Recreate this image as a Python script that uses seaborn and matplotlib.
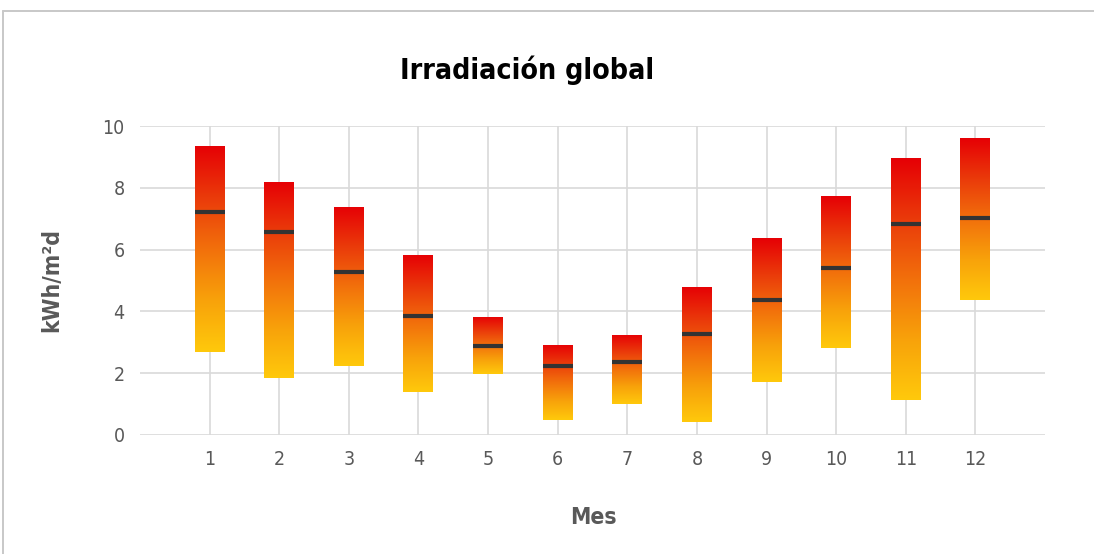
import numpy as np
import pandas as pd
import matplotlib
matplotlib.use("Agg")
import matplotlib.pyplot as plt
from matplotlib.colors import LinearSegmentedColormap
from matplotlib.lines import Line2D
import seaborn as sns

# Monthly global irradiation (kWh/m²d): minimum, maximum and mean
meses = [1, 2, 3, 4, 5, 6, 7, 8, 9, 10, 11, 12]
minimo = [2.68, 1.83, 2.22, 1.38, 1.96, 0.47, 0.99, 0.41, 1.71, 2.81, 1.12, 4.36]
maximo = [9.35, 8.19, 7.39, 5.84, 3.83, 2.92, 3.25, 4.80, 6.37, 7.72, 8.95, 9.60]
media = [7.22, 6.56, 5.27, 3.84, 2.87, 2.22, 2.35, 3.26, 4.36, 5.39, 6.82, 7.01]
y_ticks = [0, 2, 4, 6, 8, 10]

sns.set_theme(style="white")
plt.rcParams["font.family"] = ["DejaVu Sans"]
plt.rcParams["font.stretch"] = "condensed"

df = pd.DataFrame({"Mes": meses, "min": minimo, "max": maximo, "media": media})
df["rango"] = df["max"] - df["min"]

fig = plt.figure(figsize=(10.94, 5.54), dpi=100)
ax = fig.add_axes([140 / 1094, 1 - 435 / 554, (1045 - 140) / 1094, (435 - 126) / 554])

bar_w = 0.43
sns.barplot(data=df, x="Mes", y="rango", bottom=df["min"], native_scale=True,
            width=bar_w, color="white", edgecolor="none", ax=ax, zorder=2)

# Yellow-to-red vertical gradient inside each bar
grad = LinearSegmentedColormap.from_list(
    "sol", ["#ffc90c", "#f8a20a", "#f2700c", "#ea3a0a", "#e60005"])
ramp = np.linspace(0, 1, 256).reshape(-1, 1)
for p in list(ax.patches):
    x0, y0 = p.get_x(), p.get_y()
    w, h = p.get_width(), p.get_height()
    im = ax.imshow(ramp, cmap=grad, origin="lower", aspect="auto",
                   extent=[x0, x0 + w, y0, y0 + h], zorder=3, interpolation="bicubic")
    im.set_clip_path(p)
    p.set_facecolor("none")

# Mean marker across each bar
ax.hlines(df["media"], df["Mes"] - bar_w / 2, df["Mes"] + bar_w / 2,
          colors="#333333", linewidth=3.0, zorder=4)

ax.set_xlim(0, 13)
ax.set_ylim(0, 10)
ax.set_xticks(meses)
ax.set_xticklabels([str(m) for m in meses])
ax.set_yticks(y_ticks)
ax.set_yticklabels([str(t) for t in y_ticks])
ax.grid(True, color="#d9d9d9", linewidth=1.2, zorder=0)
ax.set_axisbelow(True)
for s in ax.spines.values():
    s.set_visible(False)
ax.tick_params(axis="both", length=0, labelsize=14, labelcolor="#595959")
ax.tick_params(axis="y", pad=11)
ax.tick_params(axis="x", pad=11)
ax.set_xlabel("")
ax.set_ylabel("")

fig.text(527 / 1094, 1 - 70 / 554, "Irradiación global", ha="center", va="center",
         fontsize=20.5, fontweight="bold", color="#000000")
fig.text(593 / 1094, 1 - 517 / 554, "Mes", ha="center", va="center",
         fontsize=16.5, fontweight="bold", color="#595959")
fig.text(52 / 1094, 1 - 280 / 554, "kWh/m²d", ha="center", va="center", rotation=90,
         fontsize=16.5, fontweight="bold", color="#595959")

# Light frame along the top and left of the chart area
fig.lines.append(Line2D([3 / 1094, 1.0], [1 - 11 / 554] * 2, transform=fig.transFigure,
                        color="#c8c8c8", linewidth=1.4))
fig.lines.append(Line2D([3 / 1094] * 2, [0.0, 1 - 11 / 554], transform=fig.transFigure,
                        color="#c8c8c8", linewidth=1.4))

fig.savefig("out.png", dpi=100)
